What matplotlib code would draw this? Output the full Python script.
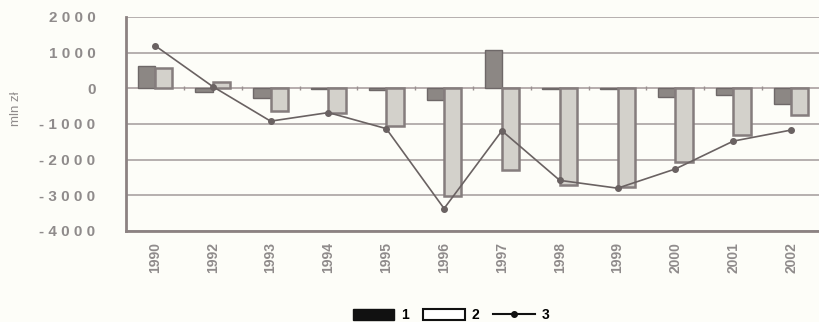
import numpy as np
import matplotlib.pyplot as plt
from matplotlib.patches import Patch
from matplotlib.lines import Line2D

years = ['1990', '1992', '1993', '1994', '1995', '1996', '1997', '1998', '1999', '2000', '2001', '2002']
s1 = [620, -100, -280, -20, -50, -330, 1080, -20, -30, -230, -190, -440]
s2 = [560, 170, -640, -690, -1070, -3030, -2290, -2710, -2760, -2060, -1320, -750]
s3 = [1200, 50, -920, -680, -1130, -3370, -1190, -2580, -2800, -2260, -1480, -1170]
yticks = [2000, 1000, 0, -1000, -2000, -3000, -4000]

plt.rcParams['font.family'] = ['Liberation Sans', 'DejaVu Sans']
bg = '#fdfdf8'
grey_txt = '#8f8b8b'
grid_c = '#aaa2a2'

fig = plt.figure(figsize=(8.2, 3.22), dpi=100, facecolor=bg)
ax = fig.add_axes([126/820, 1 - 231/322, 1 - 126/820, (231 - 17)/322])
ax.set_facecolor(bg)

x = np.arange(len(years))
w = 0.3
ax.bar(x - w/2, s1, w, color='#8c8784', edgecolor='#6e6868', linewidth=1.0, zorder=3)
ax.bar(x + w/2, s2, w, color='#d3d1cb', edgecolor='#857d7d', linewidth=1.8, zorder=3)
ax.plot(x, s3, color='#6a6262', linewidth=1.2, marker='o', markersize=4, zorder=4)

ax.set_xlim(-0.5, len(years) - 0.5)
ax.set_ylim(-4000, 2000)
ax.set_yticks(yticks)
ax.set_yticklabels([' '.join(f'{v}') for v in yticks])
ax.set_xticks(x)
ax.set_xticklabels(years, rotation=90)
ax.tick_params(axis='y', length=0, pad=22, labelsize=11, labelcolor=grey_txt)
ax.tick_params(axis='x', length=0, pad=8, labelsize=10, labelcolor=grey_txt)
for lab in ax.get_yticklabels() + ax.get_xticklabels():
    lab.set_fontweight('bold')

ax.grid(axis='y', color=grid_c, linewidth=1.2, zorder=0)
ax.axhline(0, color='#b8aeae', linewidth=1.2, zorder=2)
ax.vlines(x[1:] - 0.5, -60, 60, color='#9a9090', linewidth=1, zorder=2)

for side in ['top', 'right']:
    ax.spines[side].set_visible(False)
ax.spines['left'].set_color('#8c8282')
ax.spines['left'].set_linewidth(2)
ax.spines['bottom'].set_color('#8c8282')
ax.spines['bottom'].set_linewidth(2)

ax.set_ylabel('mln zł', color=grey_txt, fontsize=9.5)
ax.yaxis.set_label_coords(-0.15, 0.57)

handles = [
    Patch(facecolor='#111111', edgecolor='#111111'),
    Patch(facecolor='white', edgecolor='#111111', linewidth=1.5),
    Line2D([0], [0], color='#111111', marker='o', markersize=4, linewidth=1.5),
]
fig.legend(handles, ['1', '2', '3'], loc='lower center', bbox_to_anchor=(0.55, -0.04),
           ncol=3, frameon=False, handlelength=3, handleheight=0.8, columnspacing=1.0,
           handletextpad=0.5, prop={'weight': 'bold', 'size': 10})

fig.savefig('out.png', dpi=100, facecolor=bg)
